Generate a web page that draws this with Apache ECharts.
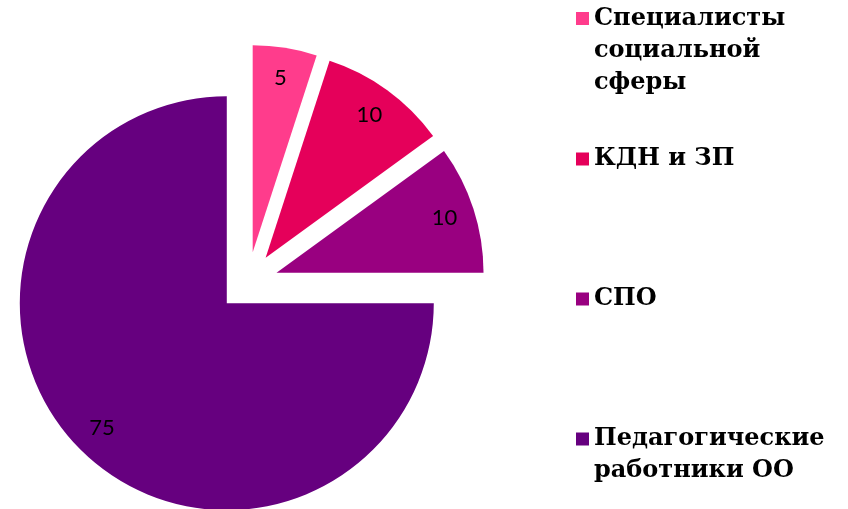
<!DOCTYPE html>
<html>
<head>
<meta charset="utf-8">
<script src="https://cdn.jsdelivr.net/npm/echarts@6/dist/echarts.min.js"></script>
<style>
  html, body { margin: 0; padding: 0; background: #fff; }
  #chart { width: 848px; height: 509px; }
</style>
</head>
<body>
<div id="chart"></div>
<script>
const categories = ['Специалисты\nсоциальной\nсферы', 'КДН и ЗП', 'СПО', 'Педагогические\nработники ОО'];
const values = [5, 10, 10, 75];
const colors = ['#ff3c8c', '#e5005a', '#990080', '#66007f'];
// centre of each legend marker, px from top
const legendMarkY = [18.5, 159, 299, 439];

const LINE = 32;
const pieData = categories.map((name, i) => ({
  name: name,
  value: values[i],
  selected: true,
  itemStyle: { color: colors[i] }
}));

// legend text is centred on its marker, so pad with blank lines above
// to line the marker up with the first line instead
const legends = categories.map((name, i) => {
  const lines = name.split('\n').length;
  const h = (2 * lines - 1) * LINE;
  return {
    orient: 'vertical',
    left: 576,
    top: legendMarkY[i] - h / 2,
    padding: 0,
    itemWidth: 13,
    itemHeight: 13,
    icon: 'rect',
    selectedMode: false,
    data: [name],
    formatter: n => '\n'.repeat(lines - 1) + n,
    textStyle: {
      fontFamily: 'DejaVu Serif',
      fontWeight: 'bold',
      fontSize: 24,
      lineHeight: LINE,
      color: '#000'
    }
  };
});

const chart = echarts.init(document.getElementById('chart'));
chart.setOption({
  animation: false,
  legend: legends,
  series: [
    {
      type: 'pie',
      center: [248, 282],
      radius: 207,
      startAngle: 90,
      clockwise: true,
      selectedMode: 'multiple',
      selectedOffset: 30,
      label: { show: false },
      labelLine: { show: false },
      emphasis: { disabled: true },
      itemStyle: { borderWidth: 0 },
      data: pieData
    },
    {
      // see-through ring, only carries the data labels
      type: 'pie',
      center: [248, 282],
      radius: [140, 207],
      startAngle: 90,
      clockwise: true,
      selectedMode: 'multiple',
      selectedOffset: 30,
      silent: true,
      emphasis: { disabled: true },
      itemStyle: { color: 'rgba(0,0,0,0)', borderWidth: 0 },
      label: {
        show: true,
        position: 'inside',
        formatter: '{c}',
        color: '#000',
        fontFamily: 'Lato',
        fontSize: 22
      },
      labelLine: { show: false },
      data: pieData.map(d => ({ name: d.name, value: d.value, selected: true }))
    }
  ]
});
</script>
</body>
</html>
